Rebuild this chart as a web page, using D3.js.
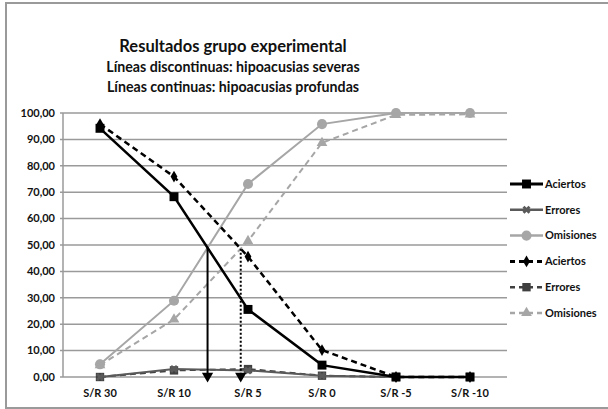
<!DOCTYPE html>
<html lang="es">
<head>
<meta charset="utf-8">
<title>Resultados grupo experimental</title>
<script src="https://d3js.org/d3.v7.min.js"></script>
<style>
  body { margin: 0; background: #fff; }
  svg { font-family: Lato, "Open Sans", sans-serif; }
  .grid line { stroke: #9a9a9a; stroke-width: 1.5px; }
  .tick-label { font-size: 11px; font-weight: bold; fill: #111; }
  .legend text { font-size: 11px; font-weight: bold; fill: #111; }
</style>
</head>
<body>
<script>
// categories and values (percent)
var categories = ["S/R 30", "S/R 10", "S/R 5", "S/R 0", "S/R -5", "S/R -10"];
var yTicks = [0, 10, 20, 30, 40, 50, 60, 70, 80, 90, 100];

// continuous lines: hipoacusias profundas
var aciertosProf  = [94.2, 68.3, 25.6, 4.5, 0, 0];
var erroresProf   = [0, 3, 2.5, 0.5, 0, 0];
var omisionesProf = [4.8, 28.9, 73.1, 95.8, 100, 100];

// dashed lines: hipoacusias severas
var aciertosSev  = [95.8, 75.9, 45.6, 10.2, 0, 0];
var erroresSev   = [0, 2.5, 3, 0.5, 0, 0];
var omisionesSev = [4.5, 21.8, 51.5, 88.7, 99.3, 99.5];

var w = 608, h = 409;

var svg = d3.select("body").append("svg")
    .attr("width", w)
    .attr("height", h);

// outer frame
svg.append("rect")
    .attr("x", 6).attr("y", 3)
    .attr("width", 610).attr("height", 405)
    .attr("fill", "none")
    .attr("stroke", "#9a9a9a")
    .attr("stroke-width", 2);

// titles
var titles = [
  {t: "Resultados grupo experimental", y: 52, s: 16.5},
  {t: "Líneas discontinuas: hipoacusias severas", y: 72, s: 14.2},
  {t: "Líneas continuas: hipoacusias profundas", y: 92, s: 14.2}
];
svg.selectAll("text.title")
    .data(titles)
  .enter().append("text")
    .attr("class", "title")
    .attr("x", 233)
    .attr("y", function(d) { return d.y; })
    .attr("text-anchor", "middle")
    .style("font-size", function(d) { return d.s + "px"; })
    .style("font-weight", "bold")
    .style("fill", "#111")
    .text(function(d) { return d.t; });

// scales
var x = d3.scaleBand()
    .domain(categories)
    .range([63, 507]);

var y = d3.scaleLinear()
    .domain([0, 100])
    .range([377, 113]);

function cx(i) { return x(categories[i]) + x.bandwidth() / 2; }

// gridlines
var grid = svg.append("g").attr("class", "grid");
grid.selectAll("line")
    .data(yTicks)
  .enter().append("line")
    .attr("x1", 60).attr("x2", 507)
    .attr("y1", function(d) { return y(d); })
    .attr("y2", function(d) { return y(d); });
grid.append("line")
    .attr("x1", 63).attr("x2", 63)
    .attr("y1", y(100)).attr("y2", y(0));

// y labels
svg.selectAll("text.ylab")
    .data(yTicks)
  .enter().append("text")
    .attr("class", "tick-label")
    .attr("x", 55)
    .attr("y", function(d) { return y(d); })
    .attr("dy", "0.35em")
    .attr("text-anchor", "end")
    .text(function(d) { return d3.format(".2f")(d).replace(".", ","); });

// x labels
svg.selectAll("text.xlab")
    .data(categories)
  .enter().append("text")
    .attr("class", "tick-label")
    .attr("x", function(d, i) { return cx(i); })
    .attr("y", 397)
    .attr("text-anchor", "middle")
    .text(function(d) { return d; });

// series
var series = [
  {name: "Aciertos",  values: aciertosProf,  color: "#000",    width: 2.5, dash: null,  sym: d3.symbolSquare,   size: 80},
  {name: "Errores",   values: erroresProf,   color: "#5a5a5a", width: 2,   dash: null,  sym: d3.symbolCross,    size: 40, rot: 45},
  {name: "Omisiones", values: omisionesProf, color: "#a6a6a6", width: 2,   dash: null,  sym: d3.symbolCircle,   size: 80},
  {name: "Aciertos",  values: aciertosSev,   color: "#000",    width: 2.5, dash: "6,4", sym: d3.symbolDiamond,  size: 40},
  {name: "Errores",   values: erroresSev,    color: "#404040", width: 2,   dash: "6,4", sym: d3.symbolSquare,   size: 70},
  {name: "Omisiones", values: omisionesSev,  color: "#a6a6a6", width: 2,   dash: "6,4", sym: d3.symbolTriangle, size: 50}
];

var line = d3.line()
    .x(function(d, i) { return cx(i); })
    .y(function(d) { return y(d); });

// draw later series underneath so the solid black line sits on top
var drawOrder = [5, 2, 4, 1, 3, 0];
drawOrder.forEach(function(k) {
  var s = series[k];
  var g = svg.append("g");
  g.append("path")
      .attr("d", line(s.values))
      .attr("fill", "none")
      .attr("stroke", s.color)
      .attr("stroke-width", s.width)
      .attr("stroke-dasharray", s.dash);
  g.selectAll("path.pt")
      .data(s.values)
    .enter().append("path")
      .attr("class", "pt")
      .attr("d", d3.symbol().type(s.sym).size(s.size))
      .attr("transform", function(d, i) {
        return "translate(" + cx(i) + "," + y(d) + ")" + (s.rot ? " rotate(" + s.rot + ")" : "");
      })
      .attr("fill", s.color);
});

// crossing of Aciertos and Omisiones, marked with a drop line
function crossing(a, b) {
  for (var i = 0; i < a.length - 1; i++) {
    var d0 = a[i] - b[i], d1 = a[i + 1] - b[i + 1];
    if (d0 > 0 && d1 <= 0) {
      var t = d0 / (d0 - d1);
      return {x: cx(i) + t * (cx(i + 1) - cx(i)), v: a[i] + t * (a[i + 1] - a[i])};
    }
  }
  return null;
}

var drops = [
  {c: crossing(aciertosProf, omisionesProf), dash: null},
  {c: crossing(aciertosSev, omisionesSev), dash: "2,2"}
];
drops.forEach(function(d) {
  svg.append("line")
      .attr("x1", d.c.x).attr("x2", d.c.x)
      .attr("y1", y(d.c.v)).attr("y2", y(0))
      .attr("stroke", "#000")
      .attr("stroke-width", 2)
      .attr("stroke-dasharray", d.dash);
  svg.append("path")
      .attr("d", d3.symbol().type(d3.symbolTriangle).size(55))
      .attr("transform", "translate(" + d.c.x + "," + (y(0) - 1) + ") rotate(180)")
      .attr("fill", "#000");
});

// legend
var legend = svg.selectAll("g.legend")
    .data(series)
  .enter().append("g")
    .attr("class", "legend")
    .attr("transform", function(d, i) { return "translate(510," + (184 + i * 25.8) + ")"; });

legend.append("line")
    .attr("x1", 0).attr("x2", 33)
    .attr("stroke", function(d) { return d.color; })
    .attr("stroke-width", function(d) { return d.width + 0.5; })
    .attr("stroke-dasharray", function(d) { return d.dash ? "5,4" : null; });
legend.append("path")
    .attr("d", function(d) { return d3.symbol().type(d.sym).size(d.size)(); })
    .attr("transform", function(d) { return "translate(16.5,0)" + (d.rot ? " rotate(" + d.rot + ")" : ""); })
    .attr("fill", function(d) { return d.color; });
legend.append("text")
    .attr("x", 35)
    .attr("dy", "0.35em")
    .text(function(d) { return d.name; });
</script>
</body>
</html>
